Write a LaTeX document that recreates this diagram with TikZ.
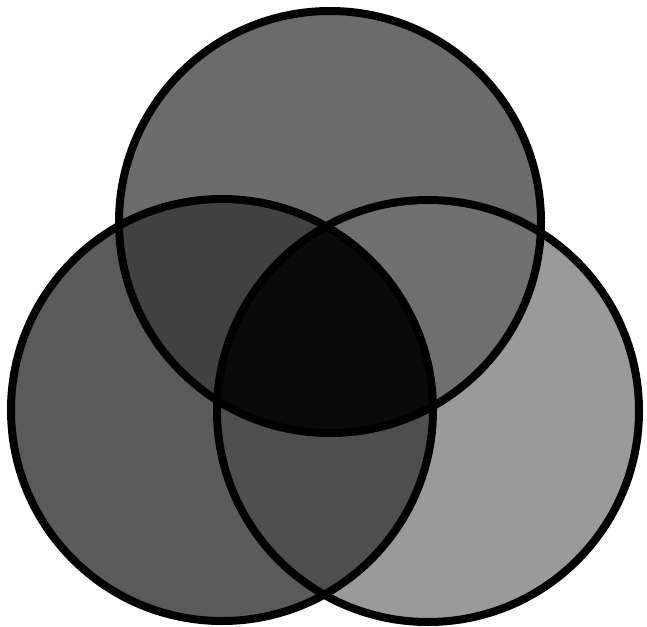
\documentclass[tikz,border=0pt]{standalone}
\usepackage{tikz}
\definecolor{vTop}{HTML}{6B6B6B}
\definecolor{vLeft}{HTML}{5A5A5A}
\definecolor{vRight}{HTML}{9A9A9A}
\definecolor{vTopLeft}{HTML}{414141}
\definecolor{vTopRight}{HTML}{6F6F6F}
\definecolor{vLeftRight}{HTML}{4E4E4E}
\definecolor{vAll}{HTML}{0A0A0A}
\newcommand{\vrad}{211pt}

\begin{document}
\begin{tikzpicture}[x=1pt, y=-1pt, ring/.style={draw=black, line width=8pt}]
      \useasboundingbox (0,0) rectangle (647,626);
      \fill[white] (0,0) rectangle (647,626);
      \coordinate (top) at (330,222);
      \coordinate (lft) at (222,410);
      \coordinate (rgt) at (428,411);
      % single sets
      \fill[vLeft]  (lft) circle (\vrad);
      \fill[vRight] (rgt) circle (\vrad);
      \fill[vTop]   (top) circle (\vrad);
      % pairwise overlaps
      \begin{scope}
        \clip (top) circle (\vrad);
        \fill[vTopLeft] (lft) circle (\vrad);
      \end{scope}
      \begin{scope}
        \clip (top) circle (\vrad);
        \fill[vTopRight] (rgt) circle (\vrad);
      \end{scope}
      \begin{scope}
        \clip (lft) circle (\vrad);
        \fill[vLeftRight] (rgt) circle (\vrad);
      \end{scope}
      % all three
      \begin{scope}
        \clip (top) circle (\vrad);
        \clip (lft) circle (\vrad);
        \fill[vAll] (rgt) circle (\vrad);
      \end{scope}
      \draw[ring] (top) circle (\vrad);
      \draw[ring] (lft) circle (\vrad);
      \draw[ring] (rgt) circle (\vrad);
    \end{tikzpicture}
\end{document}
